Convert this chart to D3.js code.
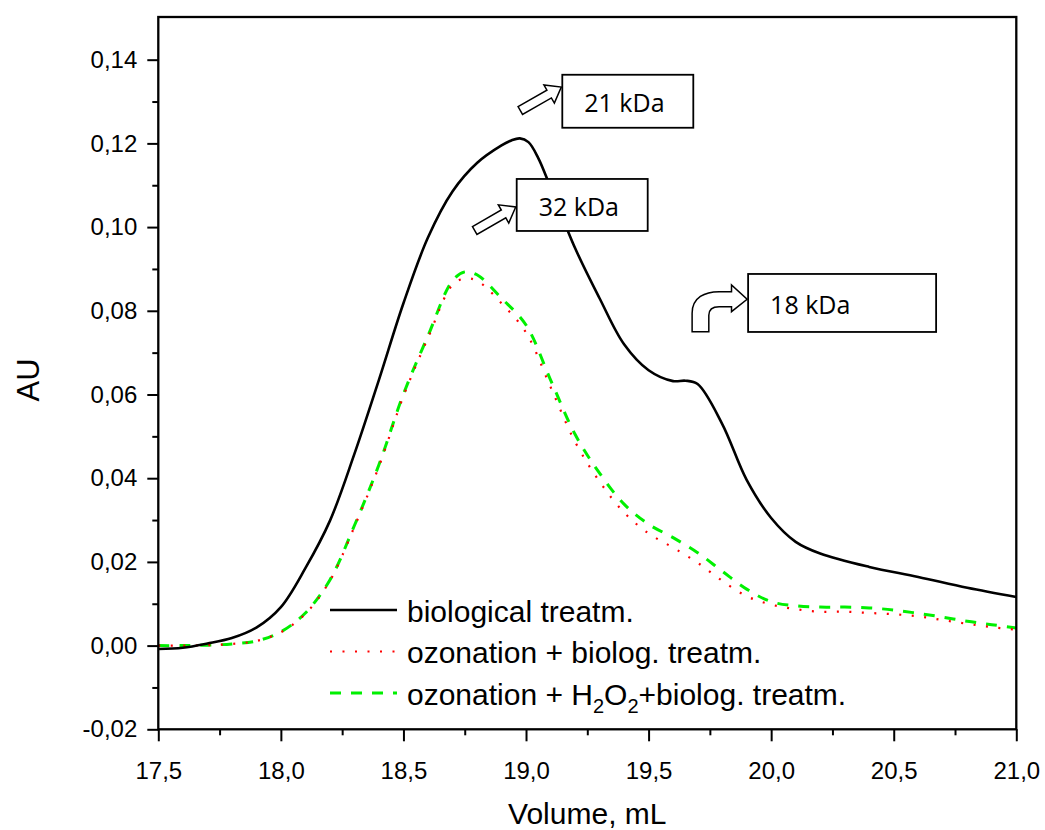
<!DOCTYPE html>
<html>
<head>
<meta charset="utf-8">
<script src="https://cdn.jsdelivr.net/npm/d3@7"></script>
<style>
body { margin: 0; background: #fff; }
text { font-family: "Liberation Sans", Arial, sans-serif; fill: #000; }
</style>
</head>
<body>
<div id="chart"></div>
<script>
// biological treatment (black solid)
var bioVolume = [17.50, 17.60, 17.70, 17.80, 17.90, 18.00, 18.10, 18.20, 18.30, 18.40,
    18.50, 18.60, 18.70, 18.80, 18.90, 18.94, 18.975, 19.01, 19.05, 19.10, 19.20, 19.30,
    19.40, 19.50, 19.60, 19.65, 19.70, 19.80, 19.90, 20.00, 20.10, 20.20,
    20.40, 20.60, 20.80, 21.00];
var bioAU = [-0.0008, -0.0005, 0.0005, 0.0018, 0.0043, 0.0092, 0.0185, 0.0298, 0.0458, 0.0635,
    0.0818, 0.0975, 0.1085, 0.1153, 0.1195, 0.1207, 0.1212, 0.1203, 0.1165, 0.1095, 0.0950, 0.0830,
    0.0720, 0.0658, 0.0632, 0.0633, 0.0625, 0.0530, 0.0396, 0.0305, 0.0248, 0.0220,
    0.0188, 0.0164, 0.0138, 0.0116];

// ozonation curves share one volume grid
var ozoVolume = [17.50, 17.60, 17.70, 17.80, 17.90, 18.00, 18.10, 18.20, 18.30, 18.40,
    18.50, 18.60, 18.70, 18.75, 18.80, 18.90, 19.00, 19.10, 19.20, 19.30,
    19.40, 19.50, 19.60, 19.70, 19.80, 19.90, 20.00, 20.10, 20.20, 20.30,
    20.40, 20.50, 20.60, 20.70, 20.80, 20.90, 21.00];
// ozonation + biolog. treatm. (red dotted)
var ozoAU = [0.0000, 0.0000, 0.0001, 0.0004, 0.0011, 0.0032, 0.0076, 0.0155, 0.0284, 0.0428,
    0.0596, 0.0735, 0.0862, 0.0877, 0.0872, 0.0818, 0.0748, 0.0618, 0.0487, 0.0392,
    0.0318, 0.0268, 0.0234, 0.0198, 0.0155, 0.0118, 0.0098, 0.0087, 0.0081, 0.0081,
    0.0078, 0.0075, 0.0070, 0.0061, 0.0052, 0.0044, 0.0038];
// ozonation + H2O2 + biolog. treatm. (green dashed)
var ozoH2O2AU = [0.0000, 0.0000, 0.0001, 0.0004, 0.0011, 0.0033, 0.0078, 0.0157, 0.0287, 0.0432,
    0.0601, 0.0740, 0.0872, 0.0893, 0.0886, 0.0830, 0.0766, 0.0635, 0.0505, 0.0412,
    0.0338, 0.0290, 0.0258, 0.0222, 0.0178, 0.0135, 0.0105, 0.0095, 0.0092, 0.0092,
    0.0090, 0.0085, 0.0077, 0.0068, 0.0058, 0.0050, 0.0042];

var xTickValues = [17.5, 18.0, 18.5, 19.0, 19.5, 20.0, 20.5, 21.0];
var xMinorValues = [17.75, 18.25, 18.75, 19.25, 19.75, 20.25, 20.75];
var yTickValues = [-0.02, 0.00, 0.02, 0.04, 0.06, 0.08, 0.10, 0.12, 0.14];
var yMinorValues = [-0.01, 0.01, 0.03, 0.05, 0.07, 0.09, 0.11, 0.13];

var legendLabels = ["biological treatm.", "ozonation + biolog. treatm.", "ozonation + H2O2+biolog. treatm."];

// peak annotations (box top-left corner in data units)
var peakLabels = ["21 kDa", "32 kDa", "18 kDa"];
var peakVolume = [19.148, 18.962, 19.906];
var peakAU = [0.1364, 0.1115, 0.0888];

// set the dimensions and margins of the graph
var margin = { top: 17, right: 28.7, bottom: 100.7, left: 158.3 },
    width = 1045 - margin.left - margin.right,
    height = 830 - margin.top - margin.bottom;

var svgRoot = d3.select("#chart")
    .append("svg")
    .attr("width", 1045)
    .attr("height", 830);
var svg = svgRoot.append("g")
    .attr("transform", "translate(" + margin.left + "," + margin.top + ")");

var x = d3.scaleLinear().domain([17.5, 21.0]).range([0, width]);
var y = d3.scaleLinear().domain([-0.02, 0.1502]).range([height, 0]);

var commaFmt = function (digits) {
    return function (d) { return d.toFixed(digits).replace(".", ","); };
};

// minor ticks
svg.append("g")
    .attr("transform", "translate(0," + height + ")")
    .call(d3.axisBottom(x).tickValues(xMinorValues).tickSize(6).tickFormat(""));
svg.append("g")
    .call(d3.axisLeft(y).tickValues(yMinorValues).tickSize(6).tickFormat(""));

// X axis
svg.append("g")
    .attr("transform", "translate(0," + height + ")")
    .call(d3.axisBottom(x).tickValues(xTickValues).tickSize(12).tickPadding(21).tickFormat(commaFmt(1)));

// Y axis
svg.append("g")
    .call(d3.axisLeft(y).tickValues(yTickValues).tickSize(11).tickPadding(10).tickFormat(commaFmt(2)));

svg.selectAll(".domain").remove();
svg.selectAll(".tick line").attr("stroke", "#000").attr("stroke-width", 2);
svg.selectAll(".tick text")
    .style("font-family", "'Liberation Sans', Arial, sans-serif")
    .style("font-size", "24px")
    .attr("fill", "#000");

// axis titles
svg.append("text")
    .attr("text-anchor", "middle")
    .attr("x", width / 2)
    .attr("y", 824 - margin.top)
    .style("font-size", "30px")
    .text("Volume, mL");

svg.append("text")
    .attr("text-anchor", "middle")
    .attr("transform", "translate(" + (39 - margin.left) + "," + (380 - margin.top) + ") rotate(-90)")
    .style("font-size", "31px")
    .text("AU");

// curves
var line = d3.line()
    .x(function (d) { return x(d[0]); })
    .y(function (d) { return y(d[1]); })
    .curve(d3.curveCatmullRom.alpha(0.5));

svg.append("clipPath").attr("id", "plotclip")
    .append("rect").attr("width", width).attr("height", height);

var curves = svg.append("g").attr("clip-path", "url(#plotclip)");

curves.append("path")
    .datum(d3.zip(ozoVolume, ozoH2O2AU))
    .attr("fill", "none")
    .attr("stroke", "#00f000")
    .attr("stroke-width", 3)
    .attr("stroke-dasharray", "11,10")
    .attr("d", line);

curves.append("path")
    .datum(d3.zip(ozoVolume, ozoAU))
    .attr("fill", "none")
    .attr("stroke", "#ff0000")
    .attr("stroke-width", 2.2)
    .attr("stroke-dasharray", "2,10.5")
    .attr("d", line);

curves.append("path")
    .datum(d3.zip(bioVolume, bioAU))
    .attr("fill", "none")
    .attr("stroke", "#000")
    .attr("stroke-width", 2.6)
    .attr("d", line);

// frame
svg.append("rect")
    .attr("width", width)
    .attr("height", height)
    .attr("fill", "none")
    .attr("stroke", "#000")
    .attr("stroke-width", 2.3);

// -------------
// LEGEND
// -------------
var legendStyles = [
    { color: "#000", width: 2.6, dash: null },
    { color: "#ff0000", width: 2.2, dash: "2,10.5" },
    { color: "#00f000", width: 3, dash: "11,10" }
];
var legend = svg.append("g").attr("transform", "translate(" + (330 - margin.left) + "," + (610 - margin.top) + ")");
legendLabels.forEach(function (label, i) {
    var row = legend.append("g").attr("transform", "translate(0," + i * 41.5 + ")");
    row.append("line")
        .attr("x1", 0).attr("x2", 67)
        .attr("y1", 0).attr("y2", 0)
        .attr("stroke", legendStyles[i].color)
        .attr("stroke-width", legendStyles[i].width)
        .attr("stroke-dasharray", legendStyles[i].dash);
    var t = row.append("text")
        .attr("x", 77)
        .attr("y", 11.5)
        .style("font-size", "30px");
    if (label.indexOf("H2O2") >= 0) {
        var parts = label.split("H2O2");
        t.append("tspan").text(parts[0] + "H");
        t.append("tspan").attr("dy", 8).style("font-size", "20px").text("2");
        t.append("tspan").attr("dy", -8).text("O");
        t.append("tspan").attr("dy", 8).style("font-size", "20px").text("2");
        t.append("tspan").attr("dy", -8).text(parts[1]);
    } else {
        t.text(label);
    }
});

// -------------
// PEAK ANNOTATIONS
// -------------
var boxSize = [[131, 53], [131, 52], [188, 58]];
var arrowTipDy = [12.3, 28, 25.3];
peakLabels.forEach(function (label, i) {
    var bx = x(peakVolume[i]), by = y(peakAU[i]);
    var w = boxSize[i][0], h = boxSize[i][1];
    var g = svg.append("g");
    g.append("rect")
        .attr("x", bx).attr("y", by)
        .attr("width", w).attr("height", h)
        .attr("fill", "#fff")
        .attr("stroke", "#000")
        .attr("stroke-width", 1.8);
    g.append("text")
        .attr("x", bx + 22)
        .attr("y", by + h / 2 + 11)
        .style("font-family", "'Open Sans', 'Noto Sans', sans-serif")
        .style("font-size", "25px")
        .text(label);

    var tipX = bx - 1, tipY = by + arrowTipDy[i];
    if (i < 2) {
        // straight hollow arrow pointing up-right
        var dx = 41, dy = -23.5;
        var L = Math.sqrt(dx * dx + dy * dy);
        var ang = Math.atan2(dy, dx) * 180 / Math.PI;
        var pts = [[0, -4.5], [L - 14, -4.5], [L - 14, -10.5], [L, 0], [L - 14, 10.5], [L - 14, 4.5], [0, 4.5]];
        g.append("polygon")
            .attr("points", pts.map(function (p) { return p.join(","); }).join(" "))
            .attr("transform", "translate(" + (tipX - dx) + "," + (tipY - dy) + ") rotate(" + ang + ")")
            .attr("fill", "#fff")
            .attr("stroke", "#000")
            .attr("stroke-width", 1.5);
    } else {
        // bent-up arrow
        g.append("path")
            .attr("d", "M-55,32.4 L-55,14 C-55,-2 -42,-7.6 -28,-7.6 L-15.6,-7.6 L-15.6,-14.3 L0,0 L-15.6,12.4 L-15.6,7.4 L-28,7.4 C-34,7.4 -38.3,10 -38.3,16 L-38.3,32.4 Z")
            .attr("transform", "translate(" + tipX + "," + tipY + ")")
            .attr("fill", "#fff")
            .attr("stroke", "#000")
            .attr("stroke-width", 1.5);
    }
});
</script>
</body>
</html>
